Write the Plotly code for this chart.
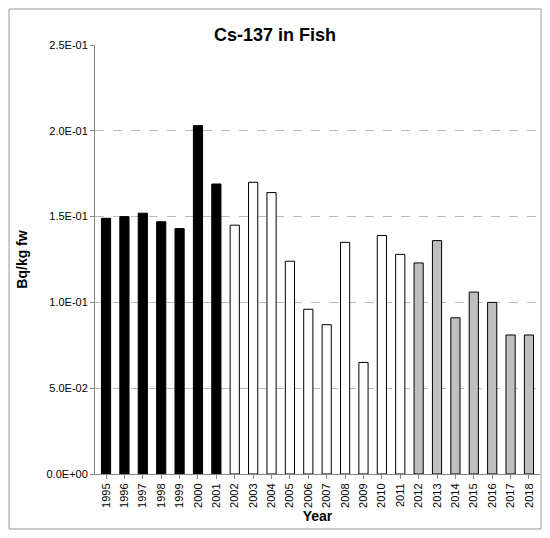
import plotly.graph_objects as go

years = [str(y) for y in range(1995, 2019)]
values = [0.149, 0.150, 0.152, 0.147, 0.143, 0.203, 0.169, 0.145, 0.170, 0.164,
          0.124, 0.096, 0.087, 0.135, 0.065, 0.139, 0.128, 0.123, 0.136, 0.091,
          0.106, 0.100, 0.081, 0.081]
colors = ['black'] * 7 + ['white'] * 10 + ['#bfbfbf'] * 7

tickvals = [0, 0.05, 0.10, 0.15, 0.20, 0.25]
ticktext = ['0.0E+00', '5.0E-02', '1.0E-01', '1.5E-01', '2.0E-01', '2.5E-01']

# page body has an 8px margin, so the figure is sized to fit the window
W, H = 534, 522
ml, mr, mt, mb = 87, 2, 37, 56
pw, ph = W - ml - mr, H - mt - mb

fig = go.Figure(go.Bar(
    x=years, y=values,
    marker=dict(color=colors, line=dict(color='black', width=1)),
    width=0.5,
))

fig.update_layout(
    width=W, height=H,
    margin=dict(l=ml, r=mr, t=mt, b=mb),
    plot_bgcolor='white', paper_bgcolor='white',
    font=dict(family='Liberation Sans, Arial', size=11, color='black'),
    title=dict(text='<b>Cs-137 in Fish</b>', x=0.5, xanchor='center',
               y=1 - 27 / H, yanchor='middle', font=dict(size=18)),
    showlegend=False,
    xaxis=dict(title=dict(text='<b>Year</b>', font=dict(size=14), standoff=4),
               range=[-0.6, 23.6],
               tickangle=-90, showline=True, linecolor='#888', ticks='outside',
               ticklen=4, tickcolor='#888'),
    yaxis=dict(title=dict(text='<b>Bq/kg fw</b>', font=dict(size=14)),
               range=[0, 0.25], tickvals=tickvals, ticktext=ticktext,
               showgrid=True, gridcolor='#bbbbbb', griddash='dash',
               showline=True, linecolor='#888', ticks='outside', ticklen=4,
               tickcolor='#888', zeroline=False),
    shapes=[dict(type='rect', xref='paper', yref='paper',
                 x0=-(ml - 1) / pw, x1=1 + (mr - 1) / pw,
                 y0=-(mb - 1) / ph, y1=1 + (mt - 1) / ph,
                 line=dict(color='#999', width=1))],
)

fig.write_html("out.html")
